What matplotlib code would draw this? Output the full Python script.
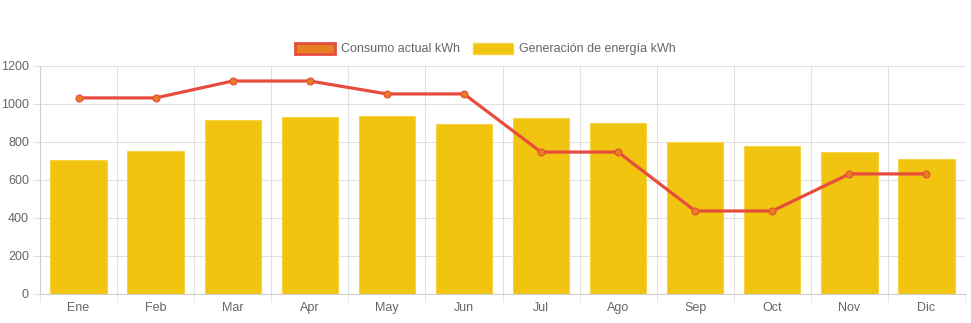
import matplotlib.pyplot as plt
from matplotlib.patches import Patch

months = ["Ene", "Feb", "Mar", "Apr", "May", "Jun", "Jul", "Ago", "Sep", "Oct", "Nov", "Dic"]
generacion = [705, 752, 916, 932, 937, 895, 926, 900, 800, 779, 747, 710]
consumo = [1032, 1032, 1121, 1121, 1053, 1053, 747, 747, 437, 437, 632, 632]
yticks = [0, 200, 400, 600, 800, 1000, 1200]

plt.rcParams['font.family'] = ['Liberation Sans', 'DejaVu Sans']
fig = plt.figure(figsize=(9.71, 3.23), dpi=100)
ax = fig.add_axes([40 / 971, 29 / 323, 925 / 971, 228 / 323])

x = list(range(len(months)))
ax.bar(x, generacion, width=0.73, color="#f1c40f", edgecolor="#f5d547", linewidth=0.8, zorder=2)
ax.plot(x, consumo, color="#e74c3c", linewidth=2.3, marker="o", markersize=5,
        markerfacecolor="#e67e22", markeredgecolor="#e74c3c", markeredgewidth=0.8, zorder=3)

ax.set_xlim(-0.5, 11.5)
ax.set_ylim(0, 1200)
ax.set_yticks(yticks)
ax.set_xticks(x)
ax.set_xticklabels(months)
ax.set_xticks([i - 0.5 for i in range(13)], minor=True)
ax.grid(False)
for b in [i - 0.5 for i in range(13)]:
    ax.axvline(b, color="#e0e0e0", linewidth=0.8, zorder=0)
for t in yticks:
    ax.axhline(t, color="#e0e0e0", linewidth=0.8, zorder=0)
ax.tick_params(axis="x", which="major", length=0, colors="#666666", labelsize=9, pad=6)
ax.tick_params(axis="x", which="minor", length=6, color="#e0e0e0", labelbottom=False)
ax.tick_params(axis="y", length=5, color="#e0e0e0", colors="#666666", labelsize=9, pad=3)
for s in ax.spines.values():
    s.set_visible(False)
ax.spines["bottom"].set_visible(True)
ax.spines["bottom"].set_color("#cfcfcf")
ax.spines["left"].set_visible(True)
ax.spines["left"].set_color("#cfcfcf")

handles = [Patch(facecolor="#e67e22", edgecolor="#e74c3c", linewidth=2),
           Patch(facecolor="#f1c40f", edgecolor="#f5d547", linewidth=1)]
fig.legend(handles, ["Consumo actual kWh", "Generación de energía kWh"], loc="center",
           bbox_to_anchor=(0.5, 1 - 49 / 323), ncol=2, frameon=False, fontsize=9,
           labelcolor="#666666", handlelength=3.2, handleheight=1.0, columnspacing=1.0,
           handletextpad=0.5)

fig.savefig("out.png", dpi=100)
